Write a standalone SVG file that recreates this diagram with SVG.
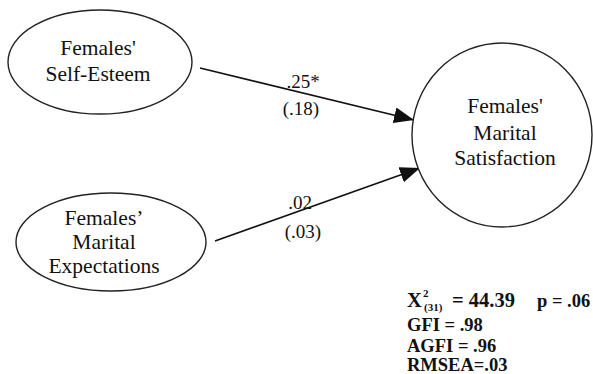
<svg xmlns="http://www.w3.org/2000/svg" width="593" height="374" viewBox="0 0 593 374" font-family="'Liberation Serif', 'Times New Roman', serif">
  <style>
    .node { fill: #fff; stroke: #222; stroke-width: 1.4; }
    .lbl { font-family: "Liberation Serif", "Times New Roman", serif; font-size: 21.5px; fill: #111; text-anchor: middle; }
    .coef { font-family: "Liberation Serif", "Times New Roman", serif; font-size: 19px; fill: #111; text-anchor: middle; }
    .edge { stroke: #111; stroke-width: 1.6; fill: none; }
    .fit { font-family: "Liberation Serif", "Times New Roman", serif; font-size: 18.5px; font-weight: bold; fill: #111; }
    .fit-big { font-size: 20.5px; }
    .fit-small { font-size: 11px; }
  </style>
  <defs>
    <marker id="arrow" markerUnits="userSpaceOnUse" markerWidth="22" markerHeight="16" refX="20" refY="8" orient="auto">
      <path d="M0,0 L20,8 L0,16 Z" fill="#111"/>
    </marker>
  </defs>
  <rect width="593" height="374" fill="#fff"/>

  <g id="connectors">
    <line class="edge" x1="200" y1="68" x2="414" y2="120" marker-end="url(#arrow)"/>
    <line class="edge" x1="215" y1="241" x2="420" y2="168" marker-end="url(#arrow)"/>
    <text class="coef" x="303" y="88">.25*</text>
    <text class="coef" x="301" y="115">(.18)</text>
    <text class="coef" x="300" y="209">.02</text>
    <text class="coef" x="303" y="238">(.03)</text>
  </g>

  <g id="self-esteem">
    <ellipse class="node" cx="100" cy="62" rx="92" ry="52"/>
    <text class="lbl" x="98" y="55">Females'</text>
    <text class="lbl" x="98" y="81">Self-Esteem</text>
  </g>

  <g id="marital-expectations">
    <ellipse class="node" cx="111" cy="242" rx="95" ry="49"/>
    <text class="lbl" x="104" y="225">Females’</text>
    <text class="lbl" x="104" y="249">Marital</text>
    <text class="lbl" x="104" y="273">Expectations</text>
  </g>

  <g id="marital-satisfaction">
    <ellipse class="node" cx="502" cy="135" rx="90" ry="92"/>
    <text class="lbl" x="505" y="113">Females'</text>
    <text class="lbl" x="505" y="140">Marital</text>
    <text class="lbl" x="505" y="165">Satisfaction</text>
  </g>

  <g id="fit-indices">
    <text class="fit fit-big" x="407" y="307">X</text>
    <text class="fit fit-small" x="423" y="297">2</text>
    <text class="fit fit-small" x="424" y="311">(31)</text>
    <text class="fit fit-big" x="452" y="307">= 44.39</text>
    <text class="fit" x="537" y="307">p = .06</text>
    <text class="fit" x="407" y="331">GFI = .98</text>
    <text class="fit" x="407" y="352">AGFI = .96</text>
    <text class="fit" x="407" y="371">RMSEA=.03</text>
  </g>
</svg>
